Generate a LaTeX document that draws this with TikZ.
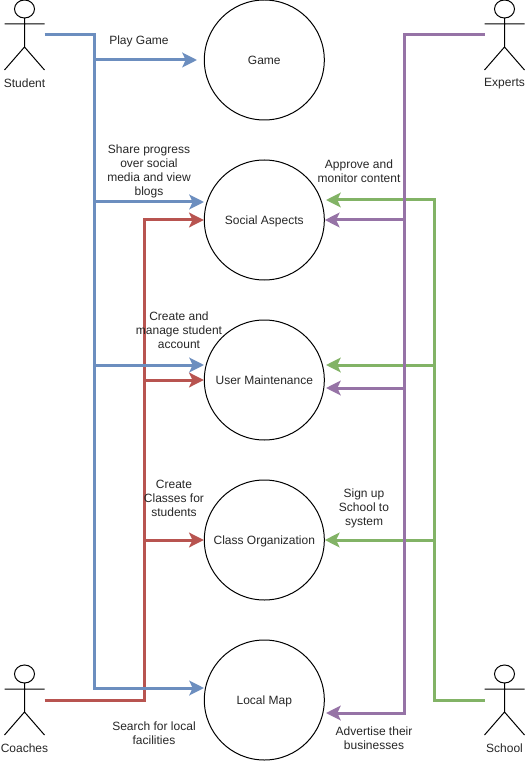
\documentclass[tikz,border=0pt]{standalone}
\usepackage{fontspec}
\setmainfont{Liberation Sans}
\usetikzlibrary{arrows.meta}
\definecolor{cblue}{HTML}{6C8EBF}
\definecolor{cred}{HTML}{B85450}
\definecolor{cpurple}{HTML}{9673A6}
\definecolor{cgreen}{HTML}{82B366}
\tikzset{
 uc/.style={circle,draw,line width=0.75pt,inner sep=0pt,minimum size=90pt,text height=9pt,text depth=2pt,font=\fontsize{9}{10.5}\selectfont,text=black!85},
 lb/.style={align=center,inner sep=0pt,font=\fontsize{9}{10.5}\selectfont,text=black!85},
 ln/.style={line width=2.25pt,miter limit=10},
 ar/.style={ln,-{Stealth[length=11pt,width=11pt,inset=2.5pt]}},
 pics/actor/.style={code={
  \draw[line width=0.75pt] (0,-26) ellipse[x radius=7.5pt,y radius=6.75pt] (0,-17)--(0,12) (-20,-11)--(20,-11)
   (-20,35)--(0,12)--(20,35);
  \coordinate (-east) at (20,0);
  \coordinate (-west) at (-20,0);
  \node[lb] (-name) at (0,48.5) {#1};}}}
\begin{document}
\begin{tikzpicture}[x=0.75pt,y=-0.75pt]
 \useasboundingbox (0,0) rectangle (525,766);
 \node[uc] (game) at (264.3,60) {Game};
 \node[uc] (social) at (264.3,220) {Social Aspects};
 \node[uc] (user) at (264.3,380) {User Maintenance};
 \node[uc] (class) at (264.3,540) {Class Organization};
 \node[uc] (map) at (264.3,700) {Local Map};
 \pic (student) at (24.5,35) {actor=Student};
 \pic (experts) at (504.5,35) {actor=Experts};
 \pic (coaches) at (24.5,700) {actor=Coaches};
 \pic (school) at (504.5,700) {actor=School};
 \coordinate (gametip) at (197,60);
 \coordinate (bs) at (204,202);
 \coordinate (bu) at (204,365);
 \coordinate (bm) at (204,688);
 \coordinate (b0) at (94.4,35);
 \coordinate (r0) at (144.4,700);
 \coordinate (p0) at (404.6,35);
 \coordinate (pm) at (326,713);
 \coordinate (g0) at (434.4,700);
 \coordinate (gs) at (326,200);
 \coordinate (gu) at (326,365);
 \coordinate (pu) at (326,388);
 \draw[ar,cgreen] (school-west)--(g0)--(g0|-gs)--(gs);
 \draw[ar,cgreen] (g0|-gu)--(gu);
 \draw[ar,cgreen] (g0|-class)--(class.east);
 \draw[ar,cpurple] (experts-west)--(p0)--(p0|-pm)--(pm);
 \draw[ar,cpurple] (p0|-social)--(social.east);
 \draw[ar,cpurple] (p0|-pu)--(pu);
 \draw[ar,cred] (coaches-east)--(r0)--(r0|-social)--(social.west);
 \draw[ar,cred] (r0|-user)--(user.west);
 \draw[ar,cred] (r0|-class)--(class.west);
 \draw[ar,cblue] (student-east)--(b0)--(b0|-bm)--(bm);
 \draw[ar,cblue] (b0|-gametip)--(gametip);
 \draw[ar,cblue] (b0|-bs)--(bs);
 \draw[ar,cblue] (b0|-bu)--(bu);
 \node[lb] (lgame) at (139,41.5) {Play Game};
 \node[lb] (lshare) at (149,171.5) {Share progress\\over social\\media and view\\blogs};
 \node[lb] (lapprove) at (359,171.5) {Approve and\\monitor content};
 \node[lb] (lcreate) at (179,330.5) {Create and\\manage student\\account};
 \node[lb] (lclasses) at (174,498.5) {Create\\Classes for\\students};
 \node[lb] (lsign) at (364,508.5) {Sign up\\School to\\system};
 \node[lb] (lsearch) at (154,733.5) {Search for local\\facilities};
 \node[lb] (ladvert) at (374,738.5) {Advertise their\\businesses};
\end{tikzpicture}
\end{document}
